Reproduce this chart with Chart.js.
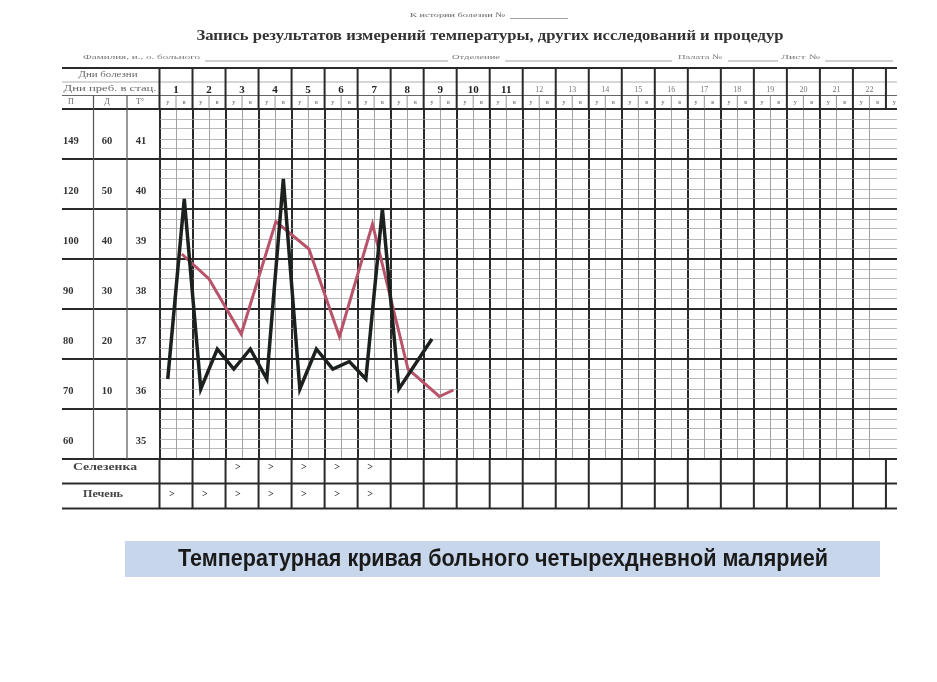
<!DOCTYPE html>
<html>
<head>
<meta charset="utf-8">
<script src="https://cdn.jsdelivr.net/npm/chart.js@4.4.0/dist/chart.umd.min.js"></script>
<style>
  html, body { margin: 0; padding: 0; background: #fff; }
  #wrap { position: relative; width: 937px; height: 682px; }
  #chart { filter: blur(0.35px); }
</style>
</head>
<body>
<div id="wrap"><canvas id="chart"></canvas></div>
<script>
// Day numbers of the sheet (each day split into morning / evening)
const dayLabels = ['1','2','3','4','5','6','7','8','9','10','11','12','13','14','15','16','17','18','19','20','21','22'];
const halfLabels = ['у', 'в'];

// Left scale labels: pulse, pressure, temperature
const pulseLabels = ['149', '120', '100', '90', '80', '70', '60'];
const pressureLabels = ['60', '50', '40', '30', '20', '10', ''];
const tempLabels = ['41', '40', '39', '38', '37', '36', '35'];

// Black curve: temperature, one reading per half-day (у, в), null = no reading
const blackTemp = [36.6, 40.2, 36.4, 37.2, 36.8, 37.2, 36.6, 40.6, 36.4, 37.2, 36.8, 36.95, 36.6, 40.0, 36.4, null, 37.4];

// Red curve: positions in half-day units and values in the same scale
const redPos = [1.35, 3.0, 4.95, 7.05, 9.05, 10.9, 12.9, 15.05, 16.95, 17.8];
const redTemp = [39.1, 38.6, 37.5, 39.75, 39.2, 37.45, 39.7, 36.8, 36.25, 36.38];

// Spleen / liver marks per day
const spleen = ['', '', '>', '>', '>', '>', '>'];
const liver = ['>', '>', '>', '>', '>', '>', '>'];

const caption = 'Температурная кривая больного четырехдневной малярией';

// text helper: squeeze text horizontally to a given width
function fitText(ctx, text, x, y, w, font, color, align) {
  ctx.save();
  ctx.font = font;
  ctx.fillStyle = color;
  ctx.textBaseline = 'middle';
  ctx.textAlign = align || 'left';
  const m = ctx.measureText(text).width;
  ctx.translate(x, y);
  if (w) ctx.scale(w / m, 1);
  ctx.fillText(text, 0, 0);
  ctx.restore();
}

function hline(ctx, x1, x2, y, w, c) {
  ctx.beginPath(); ctx.lineWidth = w; ctx.strokeStyle = c;
  ctx.moveTo(x1, y); ctx.lineTo(x2, y); ctx.stroke();
}
function vline(ctx, x, y1, y2, w, c) {
  ctx.beginPath(); ctx.lineWidth = w; ctx.strokeStyle = c;
  ctx.moveTo(x, y1); ctx.lineTo(x, y2); ctx.stroke();
}

const THICK = '#2a2a2a';
const TABLE_LEFT = 62;
const TABLE_RIGHT = 897;

// draws the printed form around the plot area
const sheetPlugin = {
  id: 'sheet',
  afterDraw(chart) {
    const ctx = chart.ctx;
    const xs = chart.scales.x;
    const ys = chart.scales.y;
    const top = chart.chartArea.top, bottom = chart.chartArea.bottom;
    const left = chart.chartArea.left;

    // header texts
    fitText(ctx, 'К истории болезни №', 410, 15, 95, '7px "Liberation Serif"', '#666');
    hline(ctx, 510, 568, 18.5, 0.8, '#888');
    fitText(ctx, 'Запись результатов измерений температуры, других исследований и процедур',
      490, 36, 587, 'bold 15px "Liberation Serif"', '#333', 'center');
    fitText(ctx, 'Фамилия, и., о. больного', 83, 57, 117, '7px "Liberation Serif"', '#777');
    hline(ctx, 205, 448, 61, 0.8, '#888');
    fitText(ctx, 'Отделение', 452, 57, 48, '7px "Liberation Serif"', '#777');
    hline(ctx, 505, 672, 61, 0.8, '#888');
    fitText(ctx, 'Палата №', 678, 57, 44, '7px "Liberation Serif"', '#777');
    hline(ctx, 728, 778, 61, 0.8, '#888');
    fitText(ctx, 'Лист №', 781, 57, 39, '7px "Liberation Serif"', '#777');
    hline(ctx, 825, 893, 61, 0.8, '#888');

    // header rows
    hline(ctx, TABLE_LEFT, TABLE_RIGHT, 68, 2.2, THICK);
    hline(ctx, TABLE_LEFT, TABLE_RIGHT, 82, 0.8, '#999');
    hline(ctx, TABLE_LEFT, TABLE_RIGHT, 95.5, 1, '#666');

    // thick degree lines continue into the label columns
    for (let v = ys.min; v <= ys.max + 1e-6; v += 1) {
      hline(ctx, TABLE_LEFT, left + 1, ys.getPixelForValue(v), 2, THICK);
    }
    // bottom rows
    hline(ctx, TABLE_LEFT, TABLE_RIGHT, 483.5, 2, THICK);
    hline(ctx, TABLE_LEFT, TABLE_RIGHT, 508.5, 2, THICK);

    // label column separators
    vline(ctx, 93.5, 95.5, bottom, 1.2, '#555');
    vline(ctx, 127, 95.5, bottom, 1.2, '#555');

    // day boundaries above and below plot, mid lines in the у/в row
    for (let d = 0; d <= dayLabels.length; d++) {
      const x = xs.getPixelForValue(2 * d);
      vline(ctx, x, 68, top, 2, THICK);
      vline(ctx, x, bottom, 508.5, 2, THICK);
      if (d < dayLabels.length) vline(ctx, xs.getPixelForValue(2 * d + 1), 95.5, top, 0.8, '#777');
    }

    // left header
    fitText(ctx, 'Дни болезни', 108, 75, 59, '8px "Liberation Serif"', '#666', 'center');
    fitText(ctx, 'Дни преб. в стац.', 110, 88.5, 93, '8px "Liberation Serif"', '#666', 'center');
    fitText(ctx, 'П', 71, 102, 0, '8px "Liberation Serif"', '#666', 'center');
    fitText(ctx, 'Д', 107, 102, 0, '8px "Liberation Serif"', '#666', 'center');
    fitText(ctx, 'Т°', 140, 102, 0, '8px "Liberation Serif"', '#666', 'center');

    // day numbers and у/в
    dayLabels.forEach((lab, i) => {
      const cx = xs.getPixelForValue(2 * i + 1);
      const bold = i < 11;
      fitText(ctx, lab, cx, 90, 0, (bold ? 'bold 11px' : '8px') + ' "Liberation Serif"', bold ? '#222' : '#777', 'center');
      halfLabels.forEach((h, j) => {
        fitText(ctx, h, xs.getPixelForValue(2 * i + j + 0.5), 102.5, 0, '6px "Liberation Serif"', '#555', 'center');
      });
    });
    fitText(ctx, halfLabels[0], xs.getPixelForValue(44.5), 102.5, 0, '6px "Liberation Serif"', '#555', 'center');

    // scale labels
    tempLabels.forEach((t, i) => {
      const v = Number(t);
      const y = ys.getPixelForValue(v + 0.36);
      fitText(ctx, pulseLabels[i], 63, y, 0, 'bold 10.5px "Liberation Serif"', '#333', 'left');
      fitText(ctx, pressureLabels[i], 107, y, 0, 'bold 10.5px "Liberation Serif"', '#333', 'center');
      fitText(ctx, t, 141, y, 0, 'bold 10.5px "Liberation Serif"', '#333', 'center');
    });

    // organ rows
    fitText(ctx, 'Селезенка', 105, 467, 64, 'bold 10px "Liberation Serif"', '#444', 'center');
    fitText(ctx, 'Печень', 103, 494, 40, 'bold 10px "Liberation Serif"', '#444', 'center');
    spleen.forEach((m, i) => {
      if (m) fitText(ctx, m, xs.getPixelForValue(2 * i + 0.75), 467, 0, 'bold 10px "Liberation Serif"', '#333', 'center');
    });
    liver.forEach((m, i) => {
      if (m) fitText(ctx, m, xs.getPixelForValue(2 * i + 0.75), 494, 0, 'bold 10px "Liberation Serif"', '#333', 'center');
    });

    // caption
    ctx.fillStyle = '#c7d6eb';
    ctx.fillRect(125, 541, 755, 36);
    fitText(ctx, caption, 503, 560, 650, 'bold 23px "Liberation Sans"', '#1a1a1a', 'center');
  }
};

const isInt = v => Math.abs(v - Math.round(v)) < 1e-6;

new Chart(document.getElementById('chart'), {
  type: 'line',
  data: {
    datasets: [
      {
        label: 'Температура',
        data: blackTemp.map((t, i) => ({ x: i + 0.5, y: t })),
        borderColor: '#1c211d',
        borderWidth: 3.5,
        pointRadius: 0,
        spanGaps: true,
        tension: 0
      },
      {
        label: 'Пульс',
        data: redPos.map((p, i) => ({ x: p, y: redTemp[i] })),
        borderColor: '#b8536a',
        borderWidth: 3,
        pointRadius: 0,
        tension: 0
      }
    ]
  },
  options: {
    responsive: true,
    maintainAspectRatio: false,
    animation: false,
    layout: { padding: { left: 159.5, right: 937 - TABLE_RIGHT, top: 109, bottom: 682 - 459 } },
    plugins: { legend: { display: false }, tooltip: { enabled: false } },
    scales: {
      x: {
        type: 'linear',
        min: 0,
        max: (TABLE_RIGHT - 159.5) / 16.51,
        ticks: { display: false, stepSize: 1 },
        border: { display: false },
        grid: {
          drawTicks: false,
          color: c => !isInt(c.tick.value) ? 'rgba(0,0,0,0)' : (Math.round(c.tick.value) % 2 === 0 ? THICK : '#8a8a8a'),
          lineWidth: c => Math.round(c.tick.value) % 2 === 0 ? 2 : 0.8
        }
      },
      y: {
        min: 35,
        max: 42,
        ticks: { display: false, stepSize: 0.2 },
        border: { display: false },
        grid: {
          drawTicks: false,
          color: c => isInt(c.tick.value) ? THICK : '#a8a8a8',
          lineWidth: c => isInt(c.tick.value) ? 2 : 0.8
        }
      }
    }
  },
  plugins: [sheetPlugin]
});
</script>
</body>
</html>
